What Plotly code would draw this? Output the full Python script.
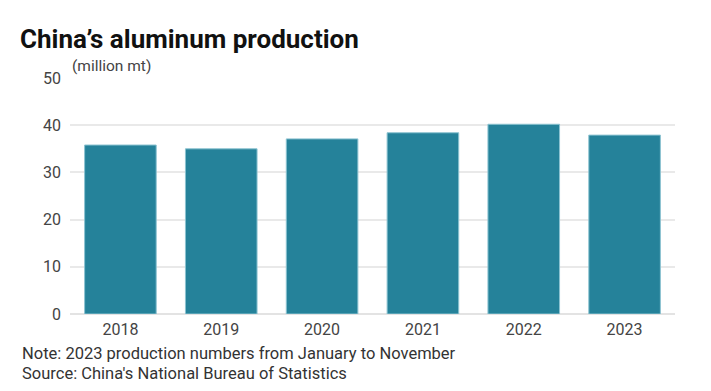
import plotly.graph_objects as go

years = ["2018", "2019", "2020", "2021", "2022", "2023"]
production = [35.8, 35.0, 37.1, 38.4, 40.2, 37.9]
y_ticks = [0, 10, 20, 30, 40, 50]

W, H = 703, 383
L, R, T, B = 62, 36, 70, 77
plot_w = W - L - R

fig = go.Figure(go.Bar(
    x=years, y=production,
    marker=dict(color="#25829a", line=dict(color="#8cc3d1", width=1)),
    hoverinfo="x+y",
))

fig.update_layout(
    width=W, height=H,
    margin=dict(l=L, r=R, t=T, b=B),
    paper_bgcolor="white", plot_bgcolor="white",
    bargap=0.29,
    showlegend=False,
    font=dict(family="Roboto, Arial, sans-serif", color="#444", size=16),
    title=dict(text="<b>China’s aluminum production</b>", x=12 / W, xref="container",
               xanchor="left", yref="container", y=1 - 31 / H, yanchor="middle",
               font=dict(size=26, color="#111", family="Roboto, Arial, sans-serif")),
    xaxis=dict(showgrid=False, showline=False, ticks="", ticklabelstandoff=4,
               tickfont=dict(size=16, color="#444")),
    yaxis=dict(range=[0, 50], tickvals=y_ticks, showgrid=True, gridcolor="#e9e9e9",
               gridwidth=1.5, zeroline=True, zerolinecolor="#e3e3e3", zerolinewidth=1.5,
               ticks="", ticklabelstandoff=8, tickfont=dict(size=16, color="#444")),
    annotations=[
        dict(text="(million mt)", xref="paper", yref="paper", x=0, y=1.0,
             xanchor="left", yanchor="bottom", showarrow=False, yshift=1,
             font=dict(size=15.5, color="#444")),
        dict(text="Note: 2023 production numbers from January to November", xref="paper",
             yref="paper", x=-50 / plot_w, y=0, xanchor="left", yanchor="middle", yshift=-39,
             showarrow=False, font=dict(size=16.5, color="#333")),
        dict(text="Source: China's National Bureau of Statistics", xref="paper",
             yref="paper", x=-50 / plot_w, y=0, xanchor="left", yanchor="middle", yshift=-59,
             showarrow=False, font=dict(size=16.5, color="#333")),
    ],
)

fig.write_html("out.html")
